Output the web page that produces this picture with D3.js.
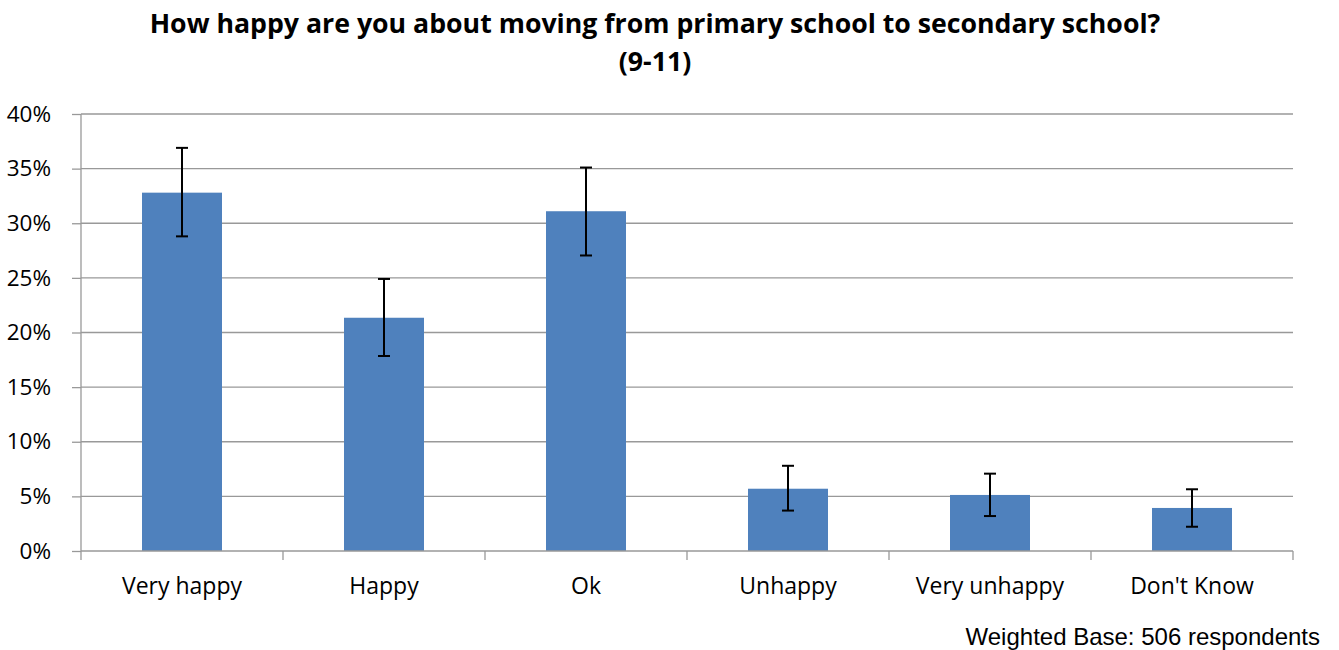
<!DOCTYPE html>
<html><head><meta charset="utf-8">
<script src="https://cdn.jsdelivr.net/npm/d3@7"></script>
<style>body{margin:0;background:#fff}</style>
</head><body>
<svg id="c" width="1339" height="650"></svg>
<script>
const categories = ["Very happy","Happy","Ok","Unhappy","Very unhappy","Don't Know"];
const values = [32.8, 21.35, 31.1, 5.7, 5.13, 3.94];
const errLow = [28.8, 17.85, 27.05, 3.7, 3.2, 2.22];
const errHigh = [36.9, 24.9, 35.1, 7.8, 7.08, 5.65];
const yTicks = [0,5,10,15,20,25,30,35,40];
const titleLines = ["How happy are you about moving from primary school to secondary school?","(9-11)"];
const note = "Weighted Base: 506 respondents";

const svg = d3.select("#c");
const L = 81, R = 1293, T = 114, B = 551;
const x = d3.scaleBand().domain(categories).range([L,R]).paddingInner(0.604).paddingOuter(0.302);
const y = d3.scaleLinear().domain([0,40]).range([B,T]);
const font = "'Open Sans', sans-serif";

// gridlines
svg.append("g").selectAll("line").data(yTicks.filter(d=>d>0)).join("line")
  .attr("x1",L).attr("x2",R).attr("y1",d=>y(d)).attr("y2",d=>y(d))
  .attr("stroke","#999").attr("stroke-width",1.3);

// y axis
const ya = svg.append("g").attr("transform",`translate(${L},0)`)
  .call(d3.axisLeft(y).tickValues(yTicks).tickFormat(d=>d+"%").tickSize(9).tickPadding(21));
ya.select(".domain").attr("stroke","#999").attr("stroke-width",1.3).attr("d",`M0,${T}V${B}`);
ya.selectAll(".tick line").attr("stroke","#999").attr("stroke-width",1.3);
ya.selectAll("text").attr("font-family",font).attr("font-size",22.5).attr("fill","#000");

// bars
svg.append("g").selectAll("rect").data(categories).join("rect")
  .attr("x",d=>x(d)).attr("width",x.bandwidth())
  .attr("y",(d,i)=>y(values[i])).attr("height",(d,i)=>B-y(values[i]))
  .attr("fill","#4f81bd");

// x axis
const step = x.step();
const boundaries = d3.range(categories.length+1).map(i=>L+i*step);
svg.append("line").attr("x1",L).attr("x2",R).attr("y1",B).attr("y2",B).attr("stroke","#999").attr("stroke-width",1.3);
svg.append("g").selectAll("line").data(boundaries).join("line")
  .attr("x1",d=>d).attr("x2",d=>d).attr("y1",B).attr("y2",B+9).attr("stroke","#999").attr("stroke-width",1.3);
svg.append("g").selectAll("text").data(categories).join("text")
  .attr("x",d=>x(d)+x.bandwidth()/2).attr("y",594).attr("text-anchor","middle")
  .attr("font-family",font).attr("font-size",23).attr("fill","#000").text(d=>d);

// error bars
const eg = svg.append("g").attr("stroke","#000").attr("stroke-width",2);
categories.forEach((c,i)=>{
  const cx = x(c)+x.bandwidth()/2;
  eg.append("line").attr("x1",cx).attr("x2",cx).attr("y1",y(errHigh[i])).attr("y2",y(errLow[i]));
  eg.append("line").attr("x1",cx-6).attr("x2",cx+6).attr("y1",y(errHigh[i])).attr("y2",y(errHigh[i]));
  eg.append("line").attr("x1",cx-6).attr("x2",cx+6).attr("y1",y(errLow[i])).attr("y2",y(errLow[i]));
});

// title
svg.selectAll("text.title").data(titleLines).join("text").attr("class","title")
  .attr("x",655).attr("y",(d,i)=>33+i*38).attr("text-anchor","middle")
  .attr("font-family",font).attr("font-weight","bold").attr("font-size",26.7).attr("fill","#000").text(d=>d);

svg.append("text").attr("x",1320).attr("y",645).attr("text-anchor","end")
  .attr("font-family","'Liberation Sans', Arial, sans-serif").attr("font-size",24).attr("fill","#000").text(note);
</script>
</body></html>
